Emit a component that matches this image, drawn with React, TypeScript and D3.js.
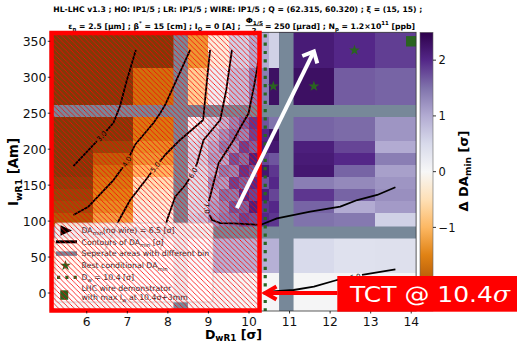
import React from "react";
import * as d3 from "d3";

const WIDTH = 517;
const HEIGHT = 342;
const FONT = "'DejaVu Sans', sans-serif";

// PuOr diverging colour map, from low (brown) to high (purple)
const puOrColors = [
  "#7f3b08", "#b35806", "#e08214", "#fdb863", "#fee0b6", "#f7f7f7",
  "#d8daeb", "#b2abd2", "#8073ac", "#542788", "#2d004b",
];
const deltaRange = [-2.5, 2.5];

const dTicks = [6, 7, 8, 9, 10, 11, 12, 13, 14];
const iTicks = [0, 50, 100, 150, 200, 250, 300, 350];
const colorbarTicks = [2, 1, 0, -1];

// plotting window (wire distance in sigma, wire current in A m)
const dDomain = [5.1, 14.12];
const iDomain = [-25, 362.5];

// bin edges; current edges run from top to bottom
const upperI = [362.5, 312.5, 250];
const middleI = [250, 228.3, 211.7, 195, 178.3, 161.7, 145, 128.3, 111.7, 84];
const lowerI = [84, 27.5, -25];
const leftD = [5.1, 6.15, 7.15, 8.3];
const upperMidD = [8.3, 9.0, 9.5, 10.0, 10.5, 10.75];
const middleMidD = [8.3, 8.75, 9.0, 9.25, 9.5, 9.75, 10.0, 10.25, 10.5, 10.75];
const lowerMidD = [8.3, 9.0, 10.75];
const rightD = [10.75, 12.1, 13.1, 14.12];

// Delta DA_min per bin, rows listed from top to bottom
const upperLeftDelta = [
  [-2.5, -2.5, -2.5],
  [-2.5, -2.5, -1.7],
];
const upperMidDelta = [
  [-1.3, -0.2, 0.6, 1.0, 0.6],
  [-0.7, 0.15, 0.8, 1.4, 2.3],
];
const upperRightDelta = [
  [2.15, 2.0, 1.85],
  [2.3, 1.65, 1.6],
];
const middleLeftDelta = [
  [-2.5, -2.5, -1.6],
  [-2.5, -2.5, -1.6],
  [-2.5, -2.3, -1.4],
  [-2.5, -1.9, -1.3],
  [-2.5, -1.7, -1.0],
  [-2.4, -1.6, -0.5],
  [-2.3, -1.5, -0.3],
  [-2.2, -1.4, -0.2],
  [-2.0, -1.2, -0.1],
];
const middleMidDelta = [
  [0.1, 0.3, 0.6, 0.9, 1.3, 1.6, 1.9, 1.7, 1.5],
  [0.3, 0.5, 0.8, 1.2, 1.5, 1.3, 1.8, 2.0, 2.3],
  [0.5, 0.6, 1.0, 1.4, 1.2, 1.8, 1.6, 2.1, 2.2],
  [0.6, 0.6, 1.1, 1.0, 1.7, 1.5, 2.1, 1.8, 1.7],
  [0.5, 0.5, 0.9, 1.4, 1.3, 1.9, 1.7, 2.2, 1.9],
  [0.4, 0.4, 1.2, 1.1, 1.8, 1.6, 2.0, 1.7, 2.0],
  [0.4, 0.5, 1.0, 1.5, 1.4, 2.0, 1.8, 2.1, 1.8],
  [0.5, 0.5, 1.1, 1.3, 1.7, 1.6, 2.1, 1.9, 2.0],
  [0.6, 0.7, 1.2, 1.4, 1.5, 1.8, 1.7, 2.0, 1.9],
];
const middleRightDelta = [
  [1.6, 1.55, 1.2],
  [1.6, 1.55, 1.2],
  [2.1, 1.8, 1.0],
  [2.15, 2.0, 1.4],
  [2.2, 1.6, 1.1],
  [1.4, 1.3, 1.2],
  [1.9, 1.6, 1.25],
  [1.6, 1.0, 1.15],
  [1.5, 1.45, 0.6],
];
const lowerLeftDelta = [
  [-0.6, -0.3, 0.0],
  [0.0, 0.0, 0.0],
];
const lowerMidDelta = [
  [0.5, 0.95],
  [0.03, 0.03],
];
const lowerRightDelta = [
  [0.5, 0.38, 0.4],
  [0.04, 0.04, 0.04],
];

// boundaries between areas with different binning
const separatorI = [253.1, 84.1];
const separatorD = [8.316, 10.92];

// DA_min contours [D, I]
const contour30 = [[7.21, 337.9], [6.99, 296.2], [6.82, 259.9], [6.66, 236.7], [6.37, 218.1], [6.21, 208.9], [5.67, 176.5]];
const contour40 = [[8.55, 337.9], [7.93, 261.4], [7.81, 249.9], [7.64, 236.0], [7.19, 206.1], [6.99, 182.6], [6.66, 157.1], [6.04, 120.0], [5.67, 108.5]];
const contour50 = [[9.04, 337.9], [8.94, 282.3], [8.87, 240.6], [8.30, 212.8], [7.93, 191.9], [7.69, 175.2], [7.51, 161.3], [7.07, 129.3], [6.77, 98.7], [6.45, 59.8]];
const contour60 = [[9.58, 337.9], [9.44, 282.3], [9.29, 240.6], [8.88, 212.8], [8.72, 180.4], [8.62, 166.9], [8.43, 150.2], [8.18, 133.9], [7.98, 101.5], [7.81, 59.8]];
const contour70 = [[10.28, 337.9], [10.13, 289.3], [9.99, 249.9], [9.78, 229.5], [9.62, 212.8], [9.25, 180.4], [9.04, 133.9], [8.96, 117.8], [9.09, 101.5], [9.29, 97.3], [9.62, 96.9], [10.28, 94.6], [10.69, 103.9], [11.51, 113.1], [12.25, 120.0], [12.67, 129.3], [13.16, 136.3], [13.61, 147.0]];
const contour60Low = [[10.40, 1.4], [11.10, 4.2], [11.60, 8.8], [12.17, 18.1], [12.62, 22.2], [12.75, 25.0], [13.61, 33.0]];

const contourLines = [contour30, contour40, contour50, contour60, contour70, contour60Low];
const contourLevels = ["3.0", "4.0", "5.0", "6.0", "7.0", "6.0"];
const contourLabelVertex = [4, 5, 5, 5, 7, 4];

// best conditional DA_min bins and the wire demonstrator point
const bestD = [10.6, 11.6, 12.6];
const bestI = [287.5, 287.5, 337.5];
const demonstratorD = [14.0];
const demonstratorI = [350];

const tctDistance = 10.4;
const hatchedUpTo = 10.26;
const trendArrow = [[9.7, 118], [11.6, 336]];
const tctArrowFrom = [12.18, 0];

const GREEN = "#2a6420";
const SLATE = "#778899";

type Seg = { t: string; sub?: boolean; sup?: boolean; it?: boolean };

function Rich({ segs, fs, subShift = 0.28, ...rest }: { segs: Seg[]; fs: number; subShift?: number; [k: string]: any }) {
  let shift = 0;
  return (
    <text fontSize={fs} {...rest}>
      {segs.map((s, k) => {
        const target = s.sub ? subShift * fs : s.sup ? -0.42 * fs : 0;
        const dy = target - shift;
        shift = target;
        return (
          <tspan key={k} dy={dy} fontSize={s.sub || s.sup ? fs * 0.7 : fs} fontStyle={s.it ? "italic" : undefined}>
            {s.t}
          </tspan>
        );
      })}
    </text>
  );
}

function arrowHead(tip: number[], from: number[], len: number, angleDeg: number) {
  const a = Math.atan2(from[1] - tip[1], from[0] - tip[0]);
  const t = (angleDeg * Math.PI) / 180;
  const p1 = [tip[0] + len * Math.cos(a + t), tip[1] + len * Math.sin(a + t)];
  const p2 = [tip[0] + len * Math.cos(a - t), tip[1] + len * Math.sin(a - t)];
  return `M${p1[0]},${p1[1]}L${tip[0]},${tip[1]}L${p2[0]},${p2[1]}`;
}

export default function App() {
  const x = d3.scaleLinear().domain(dDomain).range([50.25, 416.1]);
  const y = d3.scaleLinear().domain(iDomain).range([311, 32.3]);
  const stops = puOrColors.map((_, k) => deltaRange[0] + (k * (deltaRange[1] - deltaRange[0])) / (puOrColors.length - 1));
  const color = d3.scaleLinear<string>().domain(stops).range(puOrColors).interpolate(d3.interpolateRgb).clamp(true);
  const cb = d3.scaleLinear().domain(deltaRange).range([311, 32.3]);
  const line = d3.line<number[]>().x((d) => x(d[0])).y((d) => y(d[1]));

  const blocks = [
    { d: leftD, i: upperI, v: upperLeftDelta },
    { d: upperMidD, i: upperI, v: upperMidDelta },
    { d: rightD, i: upperI, v: upperRightDelta },
    { d: leftD, i: middleI, v: middleLeftDelta },
    { d: middleMidD, i: middleI, v: middleMidDelta },
    { d: rightD, i: middleI, v: middleRightDelta },
    { d: leftD, i: lowerI, v: lowerLeftDelta },
    { d: lowerMidD, i: lowerI, v: lowerMidDelta },
    { d: rightD, i: lowerI, v: lowerRightDelta },
  ];
  const cells = blocks.flatMap((b) =>
    b.v.flatMap((row, r) => row.map((val, c) => ({ d0: b.d[c], d1: b.d[c + 1], i0: b.i[r], i1: b.i[r + 1], val })))
  );

  const [px0, px1] = x.range();
  const [py1, py0] = y.range();

  const labels = contourLines.map((ln, k) => {
    const j = contourLabelVertex[k];
    const a = ln[j - 1], b = ln[j + 1], p = ln[j];
    let ang = (Math.atan2(y(b[1]) - y(a[1]), x(b[0]) - x(a[0])) * 180) / Math.PI;
    if (ang > 90) ang -= 180;
    if (ang < -90) ang += 180;
    return { cx: x(p[0]), cy: y(p[1]), ang, text: contourLevels[k] };
  });

  const star = d3.symbol().type(d3.symbolStar).size(36)() as string;

  const tctTip = [x(tctDistance), y(tctArrowFrom[1])];
  const tctTail = [x(tctArrowFrom[0]), y(tctArrowFrom[1])];
  const trTail = [x(trendArrow[0][0]), y(trendArrow[0][1])];
  const trTip = [x(trendArrow[1][0]), y(trendArrow[1][1])];

  const hatchX0 = px0 + 1.3;
  const hatchX1 = x(hatchedUpTo);
  const hatchY0 = py0 + 0.7;
  const hatchY1 = py1 - 0.5;

  const legendX = 55;
  const legendY = 223;
  const lt = 81.5;
  const lfs = 7.75;

  return (
    <div style={{ position: "absolute", left: 0, top: 0 }}>
      <svg width={WIDTH} height={HEIGHT} viewBox={`0 0 ${WIDTH} ${HEIGHT}`} fontFamily={FONT}>
        <defs>
          <linearGradient id="cbar" x1="0" y1="1" x2="0" y2="0">
            {puOrColors.map((c, k) => (
              <stop key={k} offset={k / (puOrColors.length - 1)} stopColor={c} />
            ))}
          </linearGradient>
          <pattern id="hatch" patternUnits="userSpaceOnUse" width="5.2" height="5.2">
            <path d="M-1,-1L6.2,6.2M-1,4.2L1,6.2M4.2,-1L6.2,1" stroke="#ff0000" strokeWidth="0.8" />
          </pattern>
          <mask id="clabelGaps" maskUnits="userSpaceOnUse" x="0" y="0" width={WIDTH} height={HEIGHT}>
            <rect width={WIDTH} height={HEIGHT} fill="white" />
            {labels.map((l, k) => (
              <rect key={k} x={-7} y={-3.5} width={14} height={7} fill="black" transform={`translate(${l.cx},${l.cy}) rotate(${l.ang})`} />
            ))}
          </mask>
          <clipPath id="plotClip">
            <rect x={px0} y={py0} width={px1 - px0} height={py1 - py0} />
          </clipPath>
        </defs>

        {/* title */}
        <text x={53.3} y={12.3} fontSize={7.7} fontWeight="bold" textLength={369} lengthAdjust="spacingAndGlyphs">
          HL-LHC v1.3 ; HO: IP1/5 ; LR: IP1/5 ; WIRE: IP1/5 ; Q = (62.315, 60.320) ; ξ = (15, 15) ;
        </text>
        <Rich
          x={68.3}
          y={28.5}
          fs={7.7}
          fontWeight="bold"
          textLength={172.4}
          lengthAdjust="spacingAndGlyphs"
          segs={[
            { t: "ε" }, { t: "n", sub: true }, { t: " = 2.5 [μm] ;  β" }, { t: "*", sup: true },
            { t: " = 15 [cm] ; I" }, { t: "O", sub: true }, { t: " = 0 [A] ;" },
          ]}
        />
        <Rich x={245.7} y={23.3} fs={7.2} fontWeight="bold" textLength={17.4} lengthAdjust="spacingAndGlyphs" segs={[{ t: "Φ" }, { t: "1/5", sub: true }]} />
        <line x1={245.5} x2={263} y1={25.6} y2={25.6} stroke="#000" strokeWidth={0.7} />
        <text x={254.2} y={32.6} fontSize={6.8} fontWeight="bold" textAnchor="middle">2</text>
        <Rich
          x={265}
          y={28.5}
          fs={7.7}
          fontWeight="bold"
          textLength={150}
          lengthAdjust="spacingAndGlyphs"
          segs={[{ t: "= 250 [μrad] ; N" }, { t: "p", sub: true }, { t: " = 1.2×10" }, { t: "11", sup: true }, { t: " [ppb]" }]}
        />

        {/* heat map */}
        <g clipPath="url(#plotClip)">
          {cells.map((c, k) => (
            <rect
              key={k}
              x={x(c.d0)}
              y={y(c.i0)}
              width={x(c.d1) - x(c.d0)}
              height={y(c.i1) - y(c.i0)}
              fill={color(c.val)}
              shapeRendering="crispEdges"
            />
          ))}
          {separatorI.map((v, k) => (
            <line key={"h" + k} x1={px0} x2={px1} y1={y(v)} y2={y(v)} stroke={SLATE} strokeWidth={12} />
          ))}
          {separatorD.map((v, k) => (
            <line key={"v" + k} x1={x(v)} x2={x(v)} y1={py0} y2={py1} stroke={SLATE} strokeWidth={14.5} />
          ))}

          {/* DA_min contours */}
          <g mask="url(#clabelGaps)">
            {contourLines.map((ln, k) => (
              <path key={k} d={line(ln) as string} fill="none" stroke="#000" strokeWidth={1.8} strokeLinejoin="round" />
            ))}
          </g>
          {labels.map((l, k) => (
            <text key={k} fontSize={7} textAnchor="middle" dy="0.35em" transform={`translate(${l.cx},${l.cy}) rotate(${l.ang})`}>
              {l.text}
            </text>
          ))}

          {/* D_w = 10.4 sigma */}
          <line x1={x(tctDistance)} x2={x(tctDistance)} y1={py0 + 2} y2={py1} stroke={GREEN} strokeWidth={3.2} strokeDasharray="3.2 5.1" />

          {bestD.map((d, k) => (
            <path key={k} d={star} transform={`translate(${x(d)},${y(bestI[k])})`} fill={GREEN} />
          ))}
          {demonstratorD.map((d, k) => (
            <rect key={k} x={x(d) - 5.2} y={y(demonstratorI[k]) - 5.2} width={10.4} height={10.4} fill={GREEN} />
          ))}
        </g>

        <rect x={px0} y={py0} width={px1 - px0} height={py1 - py0} fill="none" stroke="#333" strokeWidth={0.8} />

        {/* legend */}
        <g>
          <rect x={legendX} y={legendY} width={158} height={79} rx={2} fill="#ffffff" fillOpacity={0.85} stroke="#cccccc" strokeWidth={0.8} />
          <path d="M60.5,225.2L72,230.5L60.5,235.8Z" fill="#000" />
          <Rich x={lt} y={233.3} fs={lfs} fill="#333" segs={[{ t: "DA" }, { t: "min", sub: true }, { t: "(no wire) = 6.5 [σ]" }]} />
          <line x1={56} x2={77} y1={241.8} y2={241.8} stroke="#000" strokeWidth={3} />
          <Rich x={lt} y={244.6} fs={lfs} fill="#333" segs={[{ t: "Contours of DA" }, { t: "min", sub: true }, { t: " [σ]" }]} />
          <line x1={56} x2={77} y1={253.6} y2={253.6} stroke={SLATE} strokeWidth={4.5} />
          <text x={lt} y={256.4} fontSize={lfs} fill="#333">Seperate areas with different bin</text>
          <path d={star} transform="translate(65.5,265.6)" fill={GREEN} />
          <Rich x={lt} y={268.4} fs={lfs} fill="#333" segs={[{ t: "Best conditional DA" }, { t: "min", sub: true }]} />
          <line x1={57} x2={77} y1={277.3} y2={277.3} stroke={GREEN} strokeWidth={3.2} strokeDasharray="3.2 5.1" />
          <Rich x={lt} y={280.1} fs={lfs} fill="#333" segs={[{ t: "D" }, { t: "w", sub: true }, { t: " = 10.4 [σ]" }]} />
          <rect x={60.2} y={290.3} width={8} height={9.5} fill={GREEN} />
          <text x={lt} y={291} fontSize={lfs} fill="#333">LHC wire demonstrator</text>
          <Rich x={lt} y={300.3} fs={lfs} fill="#333" segs={[{ t: "with max I" }, { t: "w", sub: true }, { t: " at 10.4σ+3mm" }]} />
        </g>

        {/* area below the TCT, hatched */}
        <rect x={hatchX0} y={hatchY0} width={hatchX1 - hatchX0} height={hatchY1 - hatchY0} fill="url(#hatch)" />
        <rect x={hatchX0} y={hatchY0} width={hatchX1 - hatchX0} height={hatchY1 - hatchY0} fill="none" stroke="#ff0000" strokeWidth={4.5} />

        {/* trend arrow */}
        <line x1={trTail[0]} y1={trTail[1]} x2={trTip[0]} y2={trTip[1]} stroke="#ffffff" strokeWidth={4} />
        <path d={arrowHead(trTip, trTail, 12.5, 42)} fill="none" stroke="#ffffff" strokeWidth={4} strokeLinejoin="miter" />

        {/* axes */}
        {dTicks.map((t) => (
          <g key={t}>
            <line x1={x(t)} x2={x(t)} y1={py1} y2={py1 + 2.5} stroke="#000" strokeWidth={0.8} />
            <text x={x(t)} y={325.8} fontSize={12.3} textAnchor="middle" fill="#111">{t}</text>
          </g>
        ))}
        {iTicks.map((t) => (
          <g key={t}>
            <line x1={px0 - 2.5} x2={px0} y1={y(t)} y2={y(t)} stroke="#000" strokeWidth={0.8} />
            <text x={46.5} y={y(t)} dy="0.36em" fontSize={12.5} textAnchor="end" fill="#111">{t}</text>
          </g>
        ))}
        <Rich x={233.5} y={339.4} fs={12.6} subShift={0.16} fontWeight="bold" textAnchor="middle" segs={[{ t: "D" }, { t: "wR1", sub: true }, { t: " [σ]" }]} />
        <Rich
          x={0}
          y={0}
          fs={13.3}
          fontWeight="bold"
          textAnchor="middle"
          transform="translate(18.3,172) rotate(-90)"
          segs={[{ t: "I" }, { t: "wR1", sub: true }, { t: " [Am]" }]}
        />

        {/* colour bar */}
        <rect x={420} y={cb(deltaRange[1])} width={13} height={cb(deltaRange[0]) - cb(deltaRange[1])} fill="url(#cbar)" stroke="#666" strokeWidth={0.6} />
        {colorbarTicks.map((t) => (
          <g key={t}>
            <line x1={433} x2={436} y1={cb(t)} y2={cb(t)} stroke="#000" strokeWidth={0.8} />
            <text x={438.5} y={cb(t)} dy="0.36em" fontSize={11.5} fill="#111">{t < 0 ? "−" + Math.abs(t) : t}</text>
          </g>
        ))}
        <Rich
          x={0}
          y={0}
          fs={13}
          fontWeight="bold"
          textAnchor="middle"
          transform="translate(467.5,171) rotate(-90)"
          segs={[{ t: "Δ DA" }, { t: "min", sub: true }, { t: " [σ]" }]}
        />

        {/* TCT annotation */}
        <line x1={tctTail[0]} y1={tctTail[1]} x2={tctTip[0] + 1.5} y2={tctTip[1]} stroke="#ff0000" strokeWidth={4} />
        <path d={arrowHead(tctTip, tctTail, 13, 30)} fill="none" stroke="#ff0000" strokeWidth={4} />
        <rect x={337.3} y={276} width={WIDTH - 337.3} height={35.7} fill="#ff0000" />
        <text x={350} y={301.7} fontSize={22} fill="#ffffff" textLength={160} lengthAdjust="spacingAndGlyphs">
          TCT @ 10.4
          <tspan fontFamily="'DejaVu Serif', serif" fontStyle="italic">σ</tspan>
        </text>
      </svg>
    </div>
  );
}
